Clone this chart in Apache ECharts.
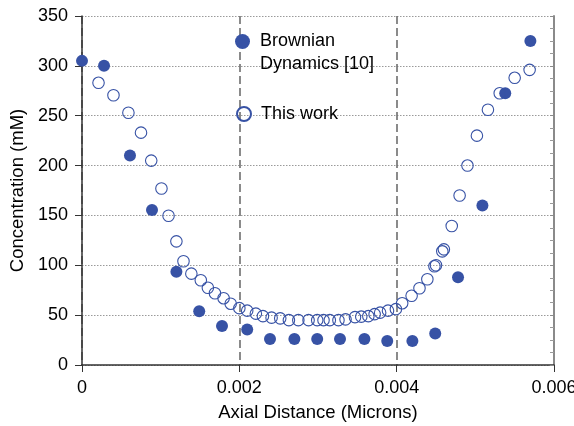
<!DOCTYPE html>
<html><head><meta charset="utf-8">
<script src="https://cdn.jsdelivr.net/npm/echarts@6/dist/echarts.min.js"></script>
<style>html,body{margin:0;padding:0;background:#fff;overflow:hidden}#c{width:574px;height:426px}</style>
</head><body><div id="c"></div>
<script>
// Brownian Dynamics [10] (filled)
const bdX = [0, 0.00028, 0.00061, 0.00089, 0.0012, 0.00149, 0.00178, 0.0021, 0.00239, 0.0027, 0.00299, 0.00328, 0.00359, 0.00388, 0.0042, 0.00449, 0.00478, 0.00509, 0.00538, 0.0057];
const bdY = [305, 300, 210, 155.5, 93.6, 54, 39, 35.5, 26, 26, 26, 26, 26, 24, 24, 31.5, 88, 160, 272.5, 325];
// This work (open)
const twX = [0.00021, 0.0004, 0.00059, 0.00075, 0.00088, 0.00101, 0.0011, 0.0012, 0.00129, 0.00139, 0.00151, 0.0016, 0.00169, 0.0018, 0.00189, 0.002, 0.0021, 0.00221, 0.0023, 0.00241, 0.00252, 0.00263, 0.00275, 0.00288, 0.00299, 0.00307, 0.00315, 0.00326, 0.00335, 0.00347, 0.00355, 0.00364, 0.00372, 0.00379, 0.00389, 0.00399, 0.00407, 0.00419, 0.00429, 0.00439, 0.00448, 0.0045, 0.00458, 0.0046, 0.0047, 0.0048, 0.0049, 0.00502, 0.00516, 0.00531, 0.0055, 0.00569];
const twY = [283, 270.5, 253, 233, 205, 177, 149.7, 124, 104, 91.6, 85, 77.5, 72, 67, 61.5, 57, 54.5, 51.5, 49, 47.5, 46.8, 45, 45, 45, 45, 45, 45, 45, 45.8, 48, 48.5, 49, 51, 52.5, 54.5, 56, 62, 69.5, 77, 86, 99, 100, 114, 116, 139.4, 170, 200, 230, 256, 272.5, 288, 296];
const xTicks = ['0', '0.002', '0.004', '0.006'];
const seriesNames = ['Brownian Dynamics [10]', 'This work'];

const FONT = "'Liberation Sans', Arial, sans-serif";
const BLUE = '#3752a5';
const chart = echarts.init(document.getElementById('c'));
chart.setOption({
  animation: false,
  textStyle: {fontFamily: FONT},
  grid: {left: 82, right: 20, top: 16, bottom: 61, containLabel: false, outerBoundsMode: 'none'},
  legend: [
    {data: [seriesNames[0]], left: 235, top: 7, padding: 0, itemWidth: 15, itemHeight: 15,
     formatter: () => '\nBrownian\nDynamics [10]',
     textStyle: {fontFamily: FONT, fontSize: 18, color: '#000', lineHeight: 23, padding: [0, 0, 0, 5]}},
    {data: [seriesNames[1]], left: 236, top: 105, padding: 0, itemWidth: 14, itemHeight: 14,
     textStyle: {fontFamily: FONT, fontSize: 18, color: '#000', padding: [0, 0, 0, 5]}}
  ],
  xAxis: {
    type: 'value', min: 0, max: 0.006, interval: 0.002,
    name: 'Axial Distance (Microns)', nameLocation: 'middle', nameGap: 38,
    nameTextStyle: {fontFamily: FONT, fontSize: 18.5, color: '#000'},
    axisLine: {lineStyle: {color: '#333', width: 1.5}},
    axisTick: {show: true, inside: false, length: 7, lineStyle: {color: '#333'}},
    axisLabel: {fontFamily: FONT, fontSize: 18, color: '#000', margin: 14,
      formatter: (v) => { const i = Math.round(v / 0.002); return xTicks[i] !== undefined ? xTicks[i] : ''; }},
    splitLine: {show: true, lineStyle: {color: '#6e6e6e', type: [8, 4], width: 1.6}}
  },
  yAxis: [
    {type: 'value', min: 0, max: 350, interval: 50,
     name: 'Concentration (mM)', nameLocation: 'middle', nameGap: 55,
     nameTextStyle: {fontFamily: FONT, fontSize: 18.5, color: '#000'},
     axisLine: {show: true, lineStyle: {color: '#333', width: 1.5}},
     axisTick: {show: true, inside: false, length: 7, lineStyle: {color: '#333'}},
     axisLabel: {fontFamily: FONT, fontSize: 18, color: '#000', margin: 14},
     splitLine: {show: true, lineStyle: {color: '#9a9a9a', type: [1.5, 1.5], width: 1}}},
    {type: 'value', min: 0, max: 350, interval: 50, position: 'right',
     axisLine: {show: true, lineStyle: {color: '#8a8a8a', width: 2}},
     axisTick: {show: true, inside: true, length: 4, lineStyle: {color: '#8a8a8a'}},
     minorTick: {show: true, splitNumber: 4, length: 4, lineStyle: {color: '#9a9a9a'}},
     axisLabel: {show: false}, splitLine: {show: false}}
  ],
  series: [
    {name: seriesNames[0], type: 'scatter', symbol: 'circle', symbolSize: 12, z: 3,
     itemStyle: {color: BLUE, opacity: 1},
     data: bdX.map((x, i) => [x, bdY[i]])},
    {name: seriesNames[1], type: 'scatter', symbol: 'circle', symbolSize: 11.5, z: 4,
     itemStyle: {color: 'rgba(255,255,255,0)', borderColor: BLUE, borderWidth: 1.1, opacity: 1},
     data: twX.map((x, i) => [x, twY[i]])}
  ]
});
</script></body></html>
